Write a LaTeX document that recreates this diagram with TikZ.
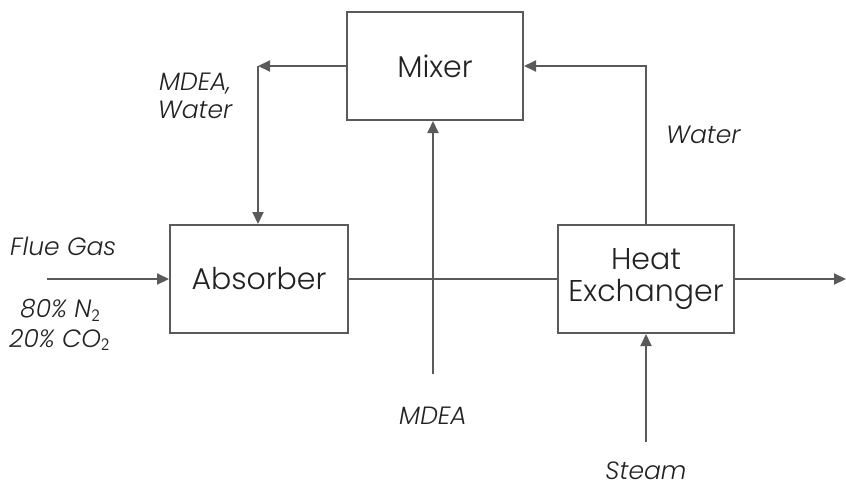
\documentclass[tikz,border=0pt]{standalone}
\usepackage{fontspec}
\setmainfont{Poppins}[UprightFont=* Light, ItalicFont=* Light Italic]
\usetikzlibrary{arrows.meta}
\definecolor{ln}{HTML}{5A5A5A}
\definecolor{tx}{HTML}{222222}
\begin{document}
\begin{tikzpicture}[x=1pt,y=-1pt,
  box/.style={draw=ln, line width=2pt, fill=white, text=tx, align=center,
    font=\fontsize{30}{32}\selectfont, inner sep=0pt},
  lbl/.style={text=tx, font=\fontsize{25}{28}\selectfont\itshape, inner sep=0pt, align=center},
  pipe/.style={draw=ln, line width=2pt},
  flow/.style={pipe, -{Triangle[length=12pt,width=11pt]}}]
\useasboundingbox (0,0) rectangle (846,491);
\node[box, minimum width=176pt, minimum height=108pt] (mixer) at (435,66) {Mixer};
\node[box, minimum width=178pt, minimum height=108pt] (absorber) at (259,279) {Absorber};
\node[box, minimum width=176pt, minimum height=108pt] (hx) at (646,279) {Heat\\Exchanger};
\coordinate (mw) at (258,66);
\coordinate (fin) at (47,279);
\coordinate (out) at (846,279);
\coordinate (md) at (433,374);
\coordinate (st) at (646,442);
\coordinate (wc) at (646,66);
\draw[flow] (mixer.west) -- (mw);
\draw[flow] (mw) -- (mw |- absorber.north);
\draw[flow] (fin) -- (absorber.west);
\draw[pipe] (absorber.east) -- (hx.west);
\draw[flow] (hx.east) -- (out);
\draw[flow] (md) -- (md |- mixer.south);
\draw[flow] (hx.north) -- (wc) -- (mixer.east);
\draw[flow] (st) -- (hx.south);
\node[lbl] (l1) at (195,96) {MDEA,\\Water};
\node[lbl, anchor=west] (l2) at (10,246) {Flue Gas};
\node[lbl, anchor=west] (l3) at (20,310) {80\% N$_{\mathsf{2}}$};
\node[lbl, anchor=west] (l4) at (9,340) {20\% CO$_{\mathsf{2}}$};
\node[lbl, anchor=west] (l5) at (666,135) {Water};
\node[lbl] (l6) at (433,416) {MDEA};
\node[lbl] (l7) at (646,471) {Steam};
\end{tikzpicture}
\end{document}
